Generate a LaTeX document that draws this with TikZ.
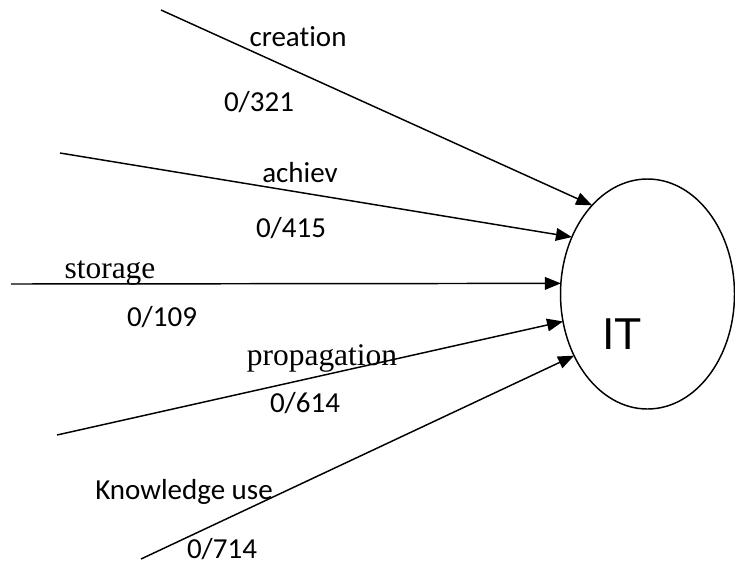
\documentclass[tikz,border=0pt]{standalone}
\usepackage{fontspec}
\setmainfont{Carlito}[Ligatures=NoCommon]
\newfontfamily\timesf{Liberation Serif}[Ligatures=NoCommon]
\newfontfamily\arialf{Liberation Sans}
\usetikzlibrary{arrows.meta,shapes.geometric}
\begin{document}
\begin{tikzpicture}[x=0.75pt,y=-0.75pt,
  lbl/.style={anchor=base,inner sep=0pt,font=\fontsize{21.75pt}{26pt}\selectfont},
  serlbl/.style={anchor=base,inner sep=0pt,font=\timesf\fontsize{23.6pt}{28pt}\selectfont},
  arr/.style={line width=1.1pt,-{Triangle[length=12pt,width=9.5pt]}},
  bubble/.style={ellipse,draw,line width=1.1pt,inner sep=0pt,outer sep=0pt,
    minimum width=130.5pt,minimum height=172.5pt}]
\useasboundingbox (0,0) rectangle (735,565);
\node[bubble] (it) at (647.5,294) {};
\node[anchor=base,inner sep=0pt,font=\arialf\fontsize{33.5pt}{40pt}\selectfont] (itl) at (622,349) {IT};
\coordinate (s1) at (161,10);
\coordinate (s2) at (60,153);
\coordinate (s3) at (11,284);
\coordinate (s4) at (57,435);
\coordinate (s5) at (141,559);
\draw[arr] (s1) -- (it.122.6);
\draw[arr] (s2) -- (it.143.3);
\draw[arr] (s3) -- (it.173.5);
\draw[arr] (s4) -- (it.198.9);
\draw[arr] (s5) -- (it.220.4);
\node[lbl] (l1) at (298,46) {creation};
\node[lbl] (n1) at (259,111) {0/321};
\node[lbl] (l2) at (300,182) {achiev};
\node[lbl] (n2) at (291,237) {0/415};
\node[serlbl] (l3) at (110,278) {storage};
\node[lbl] (n3) at (162,326) {0/109};
\node[serlbl] (l4) at (322,365) {propagation};
\node[lbl] (n4) at (305,412) {0/614};
\node[lbl] (l5) at (184,499) {Knowledge use};
\node[lbl] (n5) at (222,558) {0/714};
\end{tikzpicture}
\end{document}
